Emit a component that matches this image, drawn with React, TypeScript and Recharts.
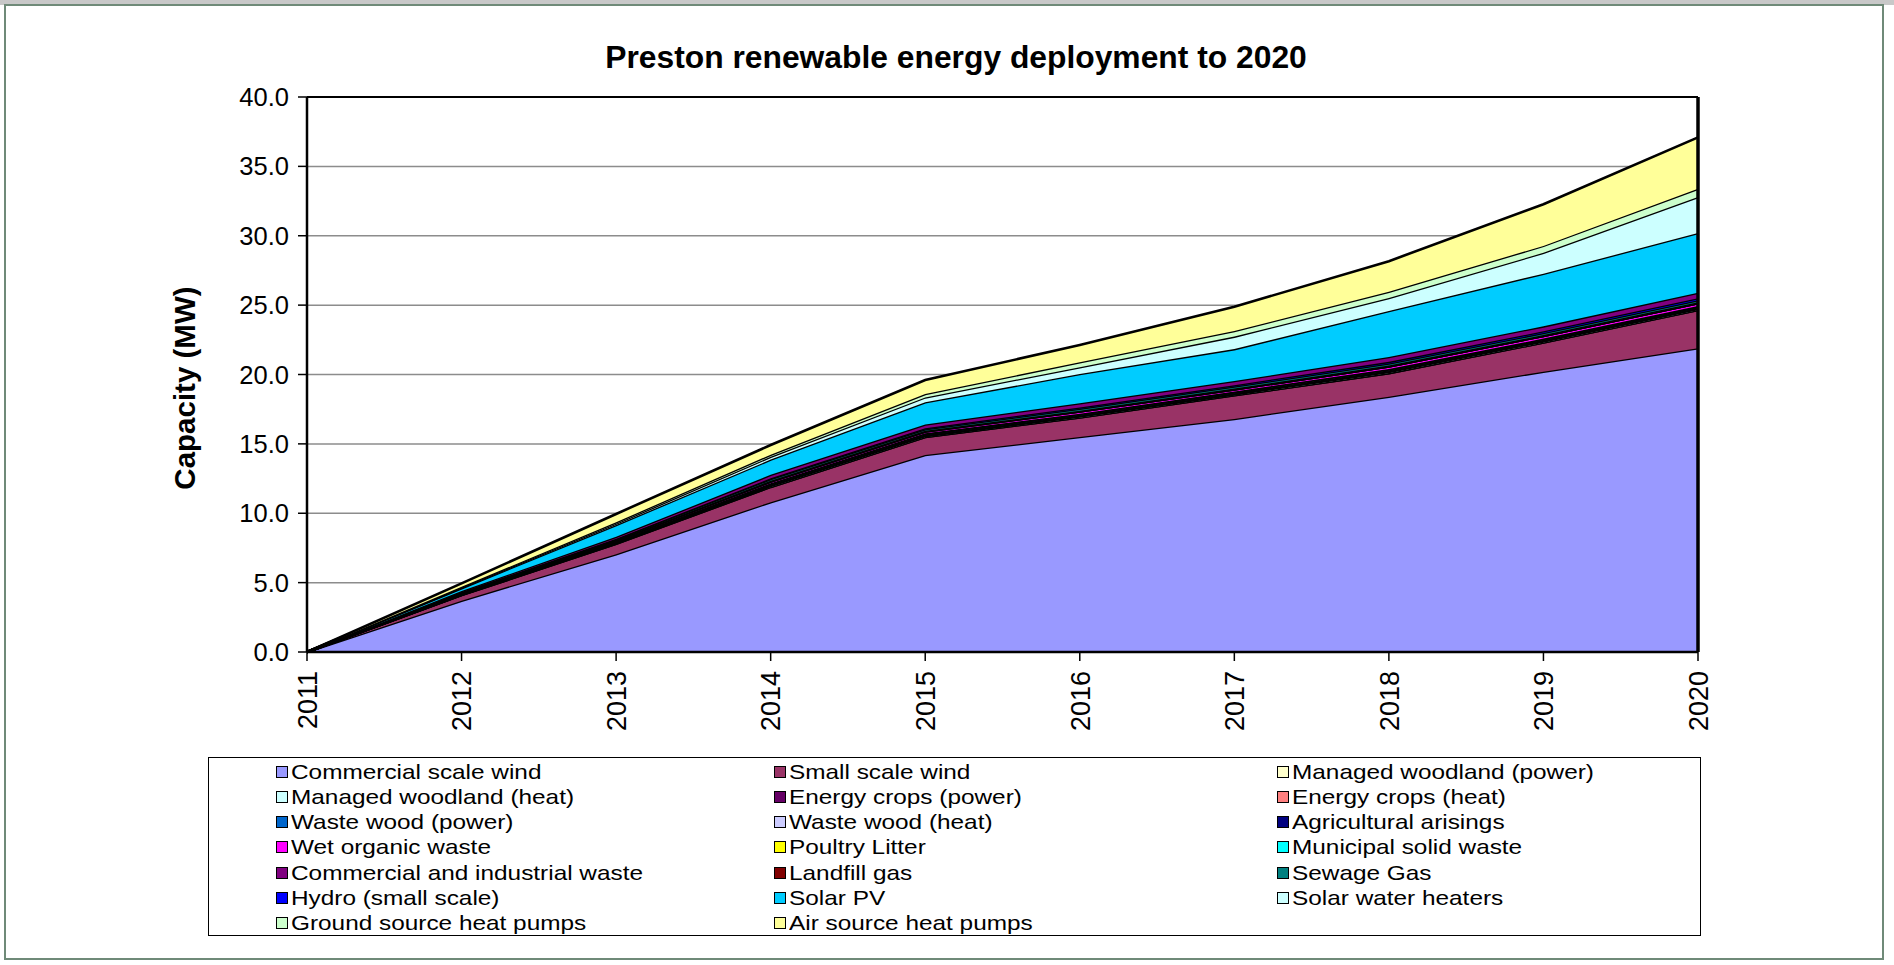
import React from 'react';
import { AreaChart, Area, XAxis, YAxis, CartesianGrid, Legend, ReferenceLine, Label } from 'recharts';

const years = ['2011', '2012', '2013', '2014', '2015', '2016', '2017', '2018', '2019', '2020'];
const yTicks = [0, 5, 10, 15, 20, 25, 30, 35, 40];

const commercialScaleWind = [0, 3.7, 7.05, 10.8, 14.2, 15.5, 16.8, 18.4, 20.2, 21.9];
const smallScaleWind = [0, 0.4, 0.75, 1.1, 1.3, 1.4, 1.7, 1.7, 2.1, 2.75];
const managedWoodlandPower = [0, 0, 0, 0, 0, 0, 0, 0, 0, 0];
const managedWoodlandHeat = [0, 0.02, 0.04, 0.06, 0.06, 0.07, 0.07, 0.08, 0.08, 0.08];
const energyCropsPower = [0, 0.02, 0.03, 0.05, 0.05, 0.05, 0.05, 0.05, 0.05, 0.05];
const energyCropsHeat = [0, 0.01, 0.02, 0.03, 0.03, 0.03, 0.03, 0.03, 0.03, 0.03];
const wasteWoodPower = [0, 0.02, 0.03, 0.05, 0.05, 0.05, 0.05, 0.05, 0.05, 0.05];
const wasteWoodHeat = [0, 0.02, 0.03, 0.05, 0.05, 0.05, 0.05, 0.05, 0.05, 0.05];
const agriculturalArisings = [0, 0.01, 0.02, 0.03, 0.03, 0.03, 0.03, 0.03, 0.03, 0.03];
const wetOrganicWaste = [0, 0.04, 0.07, 0.12, 0.12, 0.15, 0.15, 0.19, 0.19, 0.2];
const poultryLitter = [0, 0, 0, 0, 0, 0, 0, 0, 0, 0];
const municipalSolidWaste = [0, 0, 0, 0, 0, 0, 0, 0, 0, 0];
const commercialIndustrialWaste = [0, 0.08, 0.14, 0.25, 0.27, 0.3, 0.3, 0.36, 0.36, 0.4];
const landfillGas = [0, 0.02, 0.03, 0.05, 0.05, 0.06, 0.06, 0.06, 0.06, 0.06];
const sewageGas = [0, 0.04, 0.06, 0.12, 0.12, 0.14, 0.14, 0.15, 0.15, 0.16];
const hydroSmallScale = [0, 0.02, 0.03, 0.06, 0.07, 0.1, 0.1, 0.12, 0.12, 0.13];
const solarPV = [0, 0.2, 0.85, 1.1, 1.6, 2.1, 2.3, 3.3, 3.8, 4.3];
const solarWaterHeaters = [0, 0.05, 0.1, 0.2, 0.35, 0.5, 0.9, 0.95, 1.5, 2.6];
const groundSourceHeatPumps = [0, 0.05, 0.1, 0.15, 0.25, 0.35, 0.4, 0.45, 0.5, 0.6];
const airSourceHeatPumps = [0, 0.25, 0.6, 0.7, 1.0, 1.25, 1.75, 2.2, 3.0, 3.7];

type Series = { key: string; name: string; color: string; values: number[] };

// Legend order (as listed in the key)
const legendSeries: Series[] = [
  { key: 'csw', name: 'Commercial scale wind', color: '#9999FF', values: commercialScaleWind },
  { key: 'ssw', name: 'Small scale wind', color: '#993366', values: smallScaleWind },
  { key: 'mwp', name: 'Managed woodland (power)', color: '#FFFFCC', values: managedWoodlandPower },
  { key: 'mwh', name: 'Managed woodland (heat)', color: '#CCFFFF', values: managedWoodlandHeat },
  { key: 'ecp', name: 'Energy crops (power)', color: '#660066', values: energyCropsPower },
  { key: 'ech', name: 'Energy crops (heat)', color: '#FF8080', values: energyCropsHeat },
  { key: 'wwp', name: 'Waste wood (power)', color: '#0066CC', values: wasteWoodPower },
  { key: 'wwh', name: 'Waste wood (heat)', color: '#CCCCFF', values: wasteWoodHeat },
  { key: 'agr', name: 'Agricultural arisings', color: '#000080', values: agriculturalArisings },
  { key: 'wow', name: 'Wet organic waste', color: '#FF00FF', values: wetOrganicWaste },
  { key: 'pol', name: 'Poultry Litter', color: '#FFFF00', values: poultryLitter },
  { key: 'msw', name: 'Municipal solid waste', color: '#00FFFF', values: municipalSolidWaste },
  { key: 'cai', name: 'Commercial and industrial waste', color: '#800080', values: commercialIndustrialWaste },
  { key: 'lfg', name: 'Landfill gas', color: '#800000', values: landfillGas },
  { key: 'sew', name: 'Sewage Gas', color: '#008080', values: sewageGas },
  { key: 'hyd', name: 'Hydro (small scale)', color: '#0000FF', values: hydroSmallScale },
  { key: 'spv', name: 'Solar PV', color: '#00CCFF', values: solarPV },
  { key: 'swh', name: 'Solar water heaters', color: '#CCFFFF', values: solarWaterHeaters },
  { key: 'gsh', name: 'Ground source heat pumps', color: '#CCFFCC', values: groundSourceHeatPumps },
  { key: 'ash', name: 'Air source heat pumps', color: '#FFFF99', values: airSourceHeatPumps },
];

// Stacking order, bottom to top
const stackOrder = ['csw', 'ssw', 'mwp', 'mwh', 'ecp', 'ech', 'wwp', 'wwh', 'agr', 'wow', 'pol', 'msw', 'lfg', 'sew', 'hyd', 'cai', 'spv', 'swh', 'gsh', 'ash'];

const data = years.map((year, i) => {
  const row: Record<string, number | string> = { year };
  legendSeries.forEach((s) => {
    row[s.key] = s.values[i];
  });
  return row;
});

const FONT = '"Liberation Sans", Arial, sans-serif';

const XTick = (props: any) => {
  const { x, y, payload } = props;
  return (
    <g transform={`translate(${x},${y})`}>
      <text
        transform="rotate(-90)"
        x={-2}
        y={0}
        dy="0.36em"
        textAnchor="end"
        fontSize={27}
        fontFamily={FONT}
        fill="#000"
      >
        {payload.value}
      </text>
    </g>
  );
};

const renderLegend = () => {
  const colLeft = [67, 565, 1068];
  return (
    <div
      style={{
        width: '100%',
        height: '100%',
        boxSizing: 'border-box',
        border: '1.5px solid #000',
        background: '#fff',
        position: 'relative',
        fontFamily: FONT,
      }}
    >
      {legendSeries.map((s, idx) => {
        const col = idx % 3;
        const row = Math.floor(idx / 3);
        return (
          <div
            key={s.key}
            style={{
              position: 'absolute',
              left: colLeft[col],
              top: 14 + row * 25.15 - 12,
              height: 24,
              display: 'flex',
              alignItems: 'center',
              whiteSpace: 'nowrap',
            }}
          >
            <span
              style={{
                display: 'inline-block',
                width: 10,
                height: 10,
                background: s.color,
                border: '1.5px solid #000',
              }}
            />
            <span
              style={{
                display: 'inline-block',
                marginLeft: 3,
                fontSize: 21,
                color: '#000',
                transform: 'scaleX(1.16)',
                transformOrigin: 'left center',
              }}
            >
              {s.name}
            </span>
          </div>
        );
      })}
    </div>
  );
};

export default function App() {
  const ordered = stackOrder.map((k) => legendSeries.find((s) => s.key === k)!);
  return (
    <div style={{ position: 'relative', width: 1894, height: 965, overflow: 'hidden', background: '#fff', fontFamily: FONT }}>
      <style>{'body{margin:0;}'}</style>
      <div style={{ position: 'absolute', left: 0, top: 0, width: 1894, height: 5, background: '#c8c8c8' }} />
      <div
        style={{
          position: 'absolute',
          left: 4,
          top: 4,
          width: 1880,
          height: 956,
          boxSizing: 'border-box',
          border: '2px solid #6f8a78',
        }}
      />
      <div
        style={{
          position: 'absolute',
          left: 0,
          width: 1912,
          top: 38,
          textAlign: 'center',
          fontSize: 31.8,
          fontWeight: 'bold',
          color: '#000',
          lineHeight: '38px',
        }}
      >
        Preston renewable energy deployment to 2020
      </div>
      <div style={{ position: 'absolute', left: 0, top: 0 }}>
        <AreaChart
          width={1894}
          height={965}
          data={data}
          margin={{ top: 97, right: 196, left: 0, bottom: 233 }}
        >
          <CartesianGrid vertical={false} stroke="#8c8c8c" strokeWidth={1.5} />
          <XAxis
            dataKey="year"
            interval={0}
            height={80}
            tickSize={9}
            tickMargin={8}
            axisLine={{ stroke: '#000', strokeWidth: 2.5 }}
            tickLine={{ stroke: '#000', strokeWidth: 1.5 }}
            tick={<XTick />}
          />
          <YAxis
            domain={[0, 40]}
            ticks={yTicks}
            width={307}
            interval={0}
            tickSize={9}
            tickMargin={9}
            tickFormatter={(v: number) => v.toFixed(1)}
            axisLine={{ stroke: '#000', strokeWidth: 2.5 }}
            tickLine={{ stroke: '#000', strokeWidth: 1.5 }}
            tick={{ fill: '#000', fontSize: 25.5, fontFamily: FONT }}
          >
            <Label
              content={() => (
                <text
                  x={184}
                  y={388}
                  transform="rotate(-90 184 388)"
                  textAnchor="middle"
                  dominantBaseline="central"
                  fontSize={29.5}
                  fontWeight="bold"
                  fontFamily={FONT}
                  fill="#000"
                >
                  Capacity (MW)
                </text>
              )}
            />
          </YAxis>
          {ordered.map((s) => (
            <Area
              key={s.key}
              type="linear"
              dataKey={s.key}
              name={s.name}
              stackId="stack"
              stroke="#000"
              strokeWidth={2.6}
              fill={s.color}
              fillOpacity={1}
              dot={false}
              activeDot={false}
              isAnimationActive={false}
            />
          ))}
          <ReferenceLine y={40} stroke="#000" strokeWidth={2} />
          <ReferenceLine x="2020" stroke="#000" strokeWidth={3.5} />
          <Legend
            layout="horizontal"
            verticalAlign="middle"
            align="center"
            wrapperStyle={{ left: 208, top: 757, width: 1493, height: 179 }}
            content={renderLegend}
          />
        </AreaChart>
      </div>
    </div>
  );
}
